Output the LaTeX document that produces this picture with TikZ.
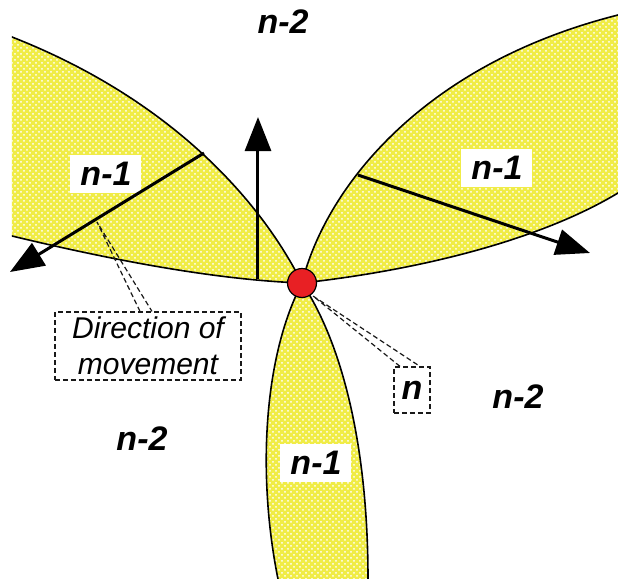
\documentclass[tikz,border=0pt]{standalone}
\usepackage{fontspec}
\setmainfont{Liberation Sans}
\usetikzlibrary{arrows.meta, backgrounds, calc, patterns}
\definecolor{lobecolor}{RGB}{240, 236, 70}
\definecolor{dotcolor} {RGB}{232, 32, 36}
\tikzset{
	lobe/.style={
		fill=lobecolor,
		postaction={pattern=crosshatch dots, pattern color=white},
		postaction={draw=black, line width=0.8pt}
	},
	movearrow/.style={
		-{Triangle[length=17pt, width=13pt]}, line width=1.5pt, color=black
	},
	zonelabel/.style={
		font=\fontsize{17}{20}\selectfont\bfseries\itshape, inner sep=2pt
	},
	zonebox/.style={
		zonelabel, fill=white, inner xsep=5pt, minimum height=19pt
	},
	callout/.style={
		draw=black!90, dash pattern=on 2.5pt off 1.5pt, line width=0.6pt
	}
}

\begin{document}
\begin{tikzpicture}[x=0.5pt, y=-0.5pt]
		\useasboundingbox (0,0) rectangle (618,579);
		
		%% ═══════════════════════════════
		%%  VERTEX
		%% ═══════════════════════════════
		\node[circle, draw=black, line width=0.6pt, fill=dotcolor,
		minimum size=14.5pt, inner sep=0pt] (vertex) at (302,283) {};
		
		%% ═══════════════════════════════
		%%  LOBES (n-1)
		%% ═══════════════════════════════
		\begin{scope}[on background layer]
			\clip (12,0) rectangle (618,579);
			% left lobe
			\path[lobe] (vertex.center) .. controls (255,190) and (160,95) .. (12,37)
			-- (0,31) -- (0,232) -- (12,236)
			.. controls (120,262) and (220,280) .. (vertex.center) -- cycle;
			% right lobe
			\path[lobe] (vertex.center) .. controls (325,190) and (420,65) .. (618,15)
			-- (630,10) -- (630,190) -- (618,193)
			.. controls (540,240) and (420,270) .. (vertex.center) -- cycle;
			% bottom lobe
			\path[lobe] (vertex.center) .. controls (262,360) and (258,480) .. (278,579)
			-- (278,590) -- (368,590) -- (368,579)
			.. controls (368,440) and (340,340) .. (vertex.center) -- cycle;
		\end{scope}
		
		%% ═══════════════════════════════
		%%  ZONE LABELS
		%% ═══════════════════════════════
		\node[zonelabel] (topzone)   at (283,22)  {n-2};
		\node[zonelabel] (leftzone)  at (142,439) {n-2};
		\node[zonelabel] (rightzone) at (518,397) {n-2};
		\node[zonebox]   (leftlobe)  at (106,174) {n-1};
		\node[zonebox]   (rightlobe) at (497,168) {n-1};
		\node[zonebox]   (bottomlobe) at (316,463) {n-1};
		
		%% ═══════════════════════════════
		%%  DIRECTIONS OF MOVEMENT
		%% ═══════════════════════════════
		\coordinate (lstart) at (204,153);
		\coordinate (ltip)   at (10,272);
		\coordinate (ubase)  at (258,279);
		\coordinate (utip)   at (258,117);
		\coordinate (rstart) at (358,175);
		\coordinate (rtip)   at (590,253);
		
		\draw[movearrow] (lstart) -- (ltip);
		\draw[movearrow] (ubase) -- (utip);
		\draw[movearrow] (rstart) -- (rtip);
		
		%% ═══════════════════════════════
		%%  CALLOUTS
		%% ═══════════════════════════════
		\node[callout, align=center, inner sep=1pt,
		minimum width=93pt, minimum height=34pt,
		font=\fontsize{15}{18}\selectfont\itshape] (dirbox) at (148,346)
		{Direction of\\movement};
		\node[callout, zonelabel, minimum width=18pt, minimum height=23pt,
		inner sep=0pt] (nbox) at (412,390) {n};
		
		\coordinate (dirpoint) at (97,222);
		\coordinate (npoint)   at (313,296);
		\draw[callout] ($(dirbox.north)+(-8,0)$) -- (dirpoint) -- ($(dirbox.north)+(4,0)$);
		\draw[callout] ($(nbox.north)+(-12,0)$) -- (npoint) -- ($(nbox.north)+(8,0)$);
	\end{tikzpicture}
\end{document}
